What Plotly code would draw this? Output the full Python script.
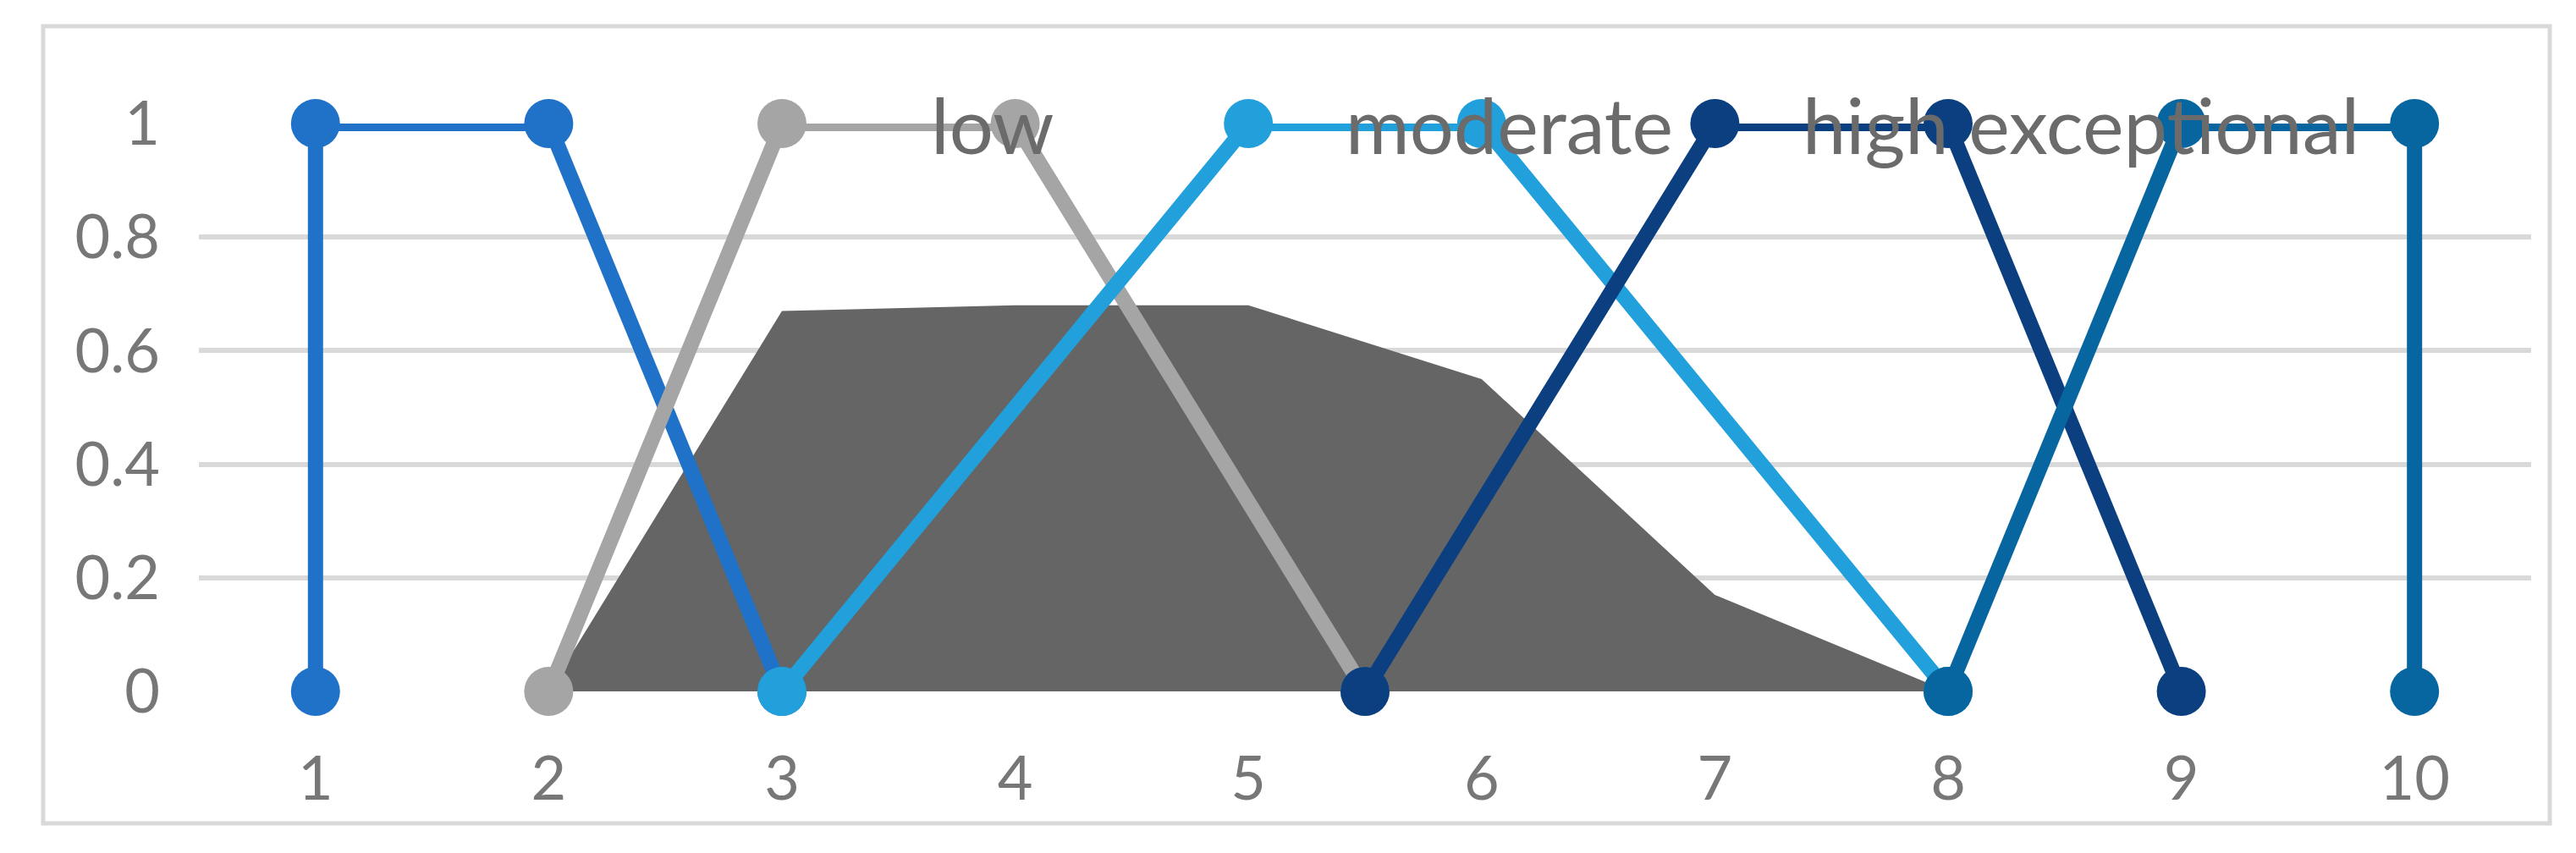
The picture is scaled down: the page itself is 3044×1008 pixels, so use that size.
import plotly.graph_objects as go

area_x = [2, 3, 4, 5, 6, 7, 8]
area_y = [0, 0.67, 0.68, 0.68, 0.55, 0.17, 0]

series = {
    "very low": ([1, 1, 2, 3], [0, 1, 1, 0], "#1F72C8"),
    "low": ([2, 3, 4, 5.5], [0, 1, 1, 0], "#A5A5A5"),
    "moderate": ([3, 5, 6, 8], [0, 1, 1, 0], "#22A0DC"),
    "high": ([5.5, 7, 8, 9], [0, 1, 1, 0], "#0B3F80"),
    "exceptional": ([8, 9, 10, 10], [0, 1, 1, 0], "#0766A0"),
}
labels = ["very low", "low", "moderate", "high exceptional"]
label_x = [1.44, 3.9, 6.12, 8.57]
label_y = [1.08, 1.0, 1.0, 1.0]
xticks = [1, 2, 3, 4, 5, 6, 7, 8, 9, 10]
yticks = [0, 0.2, 0.4, 0.6, 0.8, 1]

W, H = 3044, 1008
L, R, T, B = 227, 61, 138, 199

fig = go.Figure()
fig.add_trace(go.Scatter(x=area_x, y=area_y, fill="tozeroy", mode="none",
                         fillcolor="#656565", showlegend=False))
for name, (xs, ys, c) in series.items():
    fig.add_trace(go.Scatter(x=xs, y=ys, mode="lines+markers", name=name,
                             line=dict(color=c, width=18),
                             marker=dict(color=c, size=58), cliponaxis=False,
                             showlegend=False))
for i, t in enumerate(labels):
    fig.add_annotation(x=label_x[i], y=label_y[i], text=t, showarrow=False,
                       xanchor="center", yanchor="middle",
                       font=dict(family="Lato", size=62 if i == 0 else 92,
                                 color="black" if i == 0 else "#6b6b6b"))

pw, ph = W - L - R, H - T - B
def px(x): return (x - L) / pw
def py(y): return (H - B - y) / ph
fig.add_shape(type="rect", xref="paper", yref="paper",
              x0=px(43), x1=px(3005), y0=py(965), y1=py(23),
              line=dict(color="#d9d9d9", width=5), layer="below")

fig.update_layout(
    width=W, height=H, margin=dict(l=L, r=R, t=T, b=B),
    paper_bgcolor="white", plot_bgcolor="white",
    font=dict(family="Lato", color="#777777", size=72),
    xaxis=dict(range=[0.5, 10.5], tickvals=xticks, showgrid=False,
               zeroline=False, showline=False, ticklen=0, ticks="",
               ticklabelstandoff=55),
    yaxis=dict(range=[0, 1], tickvals=yticks, showgrid=True, gridcolor="#d9d9d9",
               gridwidth=6, zeroline=False, showline=False, ticks="",
               ticklabelstandoff=45),
)
fig.write_html("out.html")
